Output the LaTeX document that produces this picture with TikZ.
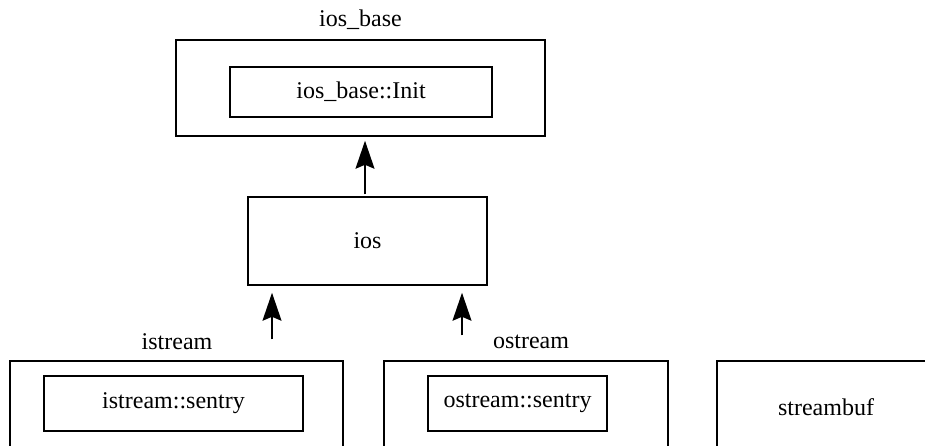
\documentclass[tikz,border=0pt]{standalone}
\usepackage{fontspec}
\setmainfont{Liberation Serif}
\usetikzlibrary{arrows.meta}
\begin{document}
\begin{tikzpicture}[x=1pt,y=-1pt,
  box/.style={draw,line width=1.5pt,rectangle,inner sep=0pt,font=\fontsize{24}{28}\selectfont},
  lbl/.style={inner sep=0pt,font=\fontsize{24}{28}\selectfont},
  arr/.style={line width=1.5pt,-{Stealth[length=28pt,width=19pt,inset=4pt]}}]
\useasboundingbox (0,0) rectangle (925,445);
\clip (0,0) rectangle (925,445);
\node[box,minimum width=369pt,minimum height=96pt] (iosbase) at (360.5,88) {};
\node[lbl] (iosbaselbl) at (360.5,20) {ios\_base};
\node[box,minimum width=262pt,minimum height=50pt] (init) at (361,92) {ios\_base::Init};
\node[box,minimum width=239pt,minimum height=88pt] (ios) at (367.5,241) {ios};
\node[box,minimum width=333pt,minimum height=109pt] (istream) at (176.5,415.5) {};
\node[lbl] (istreamlbl) at (177,342) {istream};
\node[box,minimum width=259pt,minimum height=55pt] (isentry) at (173.5,403.5) {istream::sentry};
\node[box,minimum width=284pt,minimum height=109pt] (ostream) at (526,415.5) {};
\node[lbl] (ostreamlbl) at (531,342) {ostream};
\node[box,minimum width=179pt,minimum height=55pt] (osentry) at (517.5,403.5) {ostream::sentry};
\node[box,minimum width=218pt,minimum height=109pt] (sbuf) at (826,415.5) {};
\node[lbl] (sbuflbl) at (826,407) {streambuf};
\draw[arr,shorten <=2pt,shorten >=4pt] (ios.north -| 365,0) -- (iosbase.south -| 365,0);
\draw[arr,shorten <=21pt,shorten >=7pt] (istream.north -| 272,0) -- (ios.south -| 272,0);
\draw[arr,shorten <=25pt,shorten >=7pt] (ostream.north -| 462,0) -- (ios.south -| 462,0);
\end{tikzpicture}
\end{document}
